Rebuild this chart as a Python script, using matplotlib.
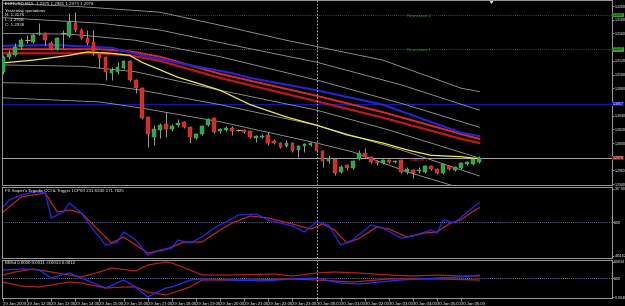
import numpy as np
import matplotlib.pyplot as plt
from matplotlib.transforms import blended_transform_factory

plt.rcParams['font.family'] = ['Liberation Sans', 'DejaVu Sans']

# EURUSD M15, 29 Jan 2009 11:00 -> 30 Jan 06:45 (80 bars)
opens = [1.3104, 1.3126, 1.3128, 1.3140, 1.3151, 1.3147, 1.3159, 1.3161, 1.3146, 1.3137,
         1.3160, 1.3156, 1.3175, 1.3165, 1.3153, 1.3147, 1.3131, 1.3126, 1.3102, 1.3104,
         1.3110, 1.3120, 1.3092, 1.3080, 1.3038, 1.3009, 1.3019, 1.3028, 1.3020, 1.3026,
         1.3031, 1.3023, 1.3007, 1.3013, 1.3026, 1.3037, 1.3018, 1.3019, 1.3022, 1.3019,
         1.3019, 1.3018, 1.3007, 1.3009, 1.3012, 1.3003, 1.3000, 1.2996, 1.3000, 1.2990,
         1.2996, 1.2997, 1.3000, 1.2988, 1.2974, 1.2977, 1.2958, 1.2968, 1.2964, 1.2977,
         1.2985, 1.2980, 1.2972, 1.2971, 1.2975, 1.2972, 1.2975, 1.2958, 1.2961, 1.2959,
         1.2958, 1.2966, 1.2962, 1.2956, 1.2966, 1.2961, 1.2964, 1.2969, 1.2969, 1.2972]
highs = [1.3128, 1.3136, 1.3146, 1.3153, 1.3158, 1.3161, 1.3175, 1.3162, 1.3149, 1.3155,
         1.3165, 1.3190, 1.3191, 1.3168, 1.3165, 1.3165, 1.3133, 1.3127, 1.3111, 1.3118,
         1.3121, 1.3121, 1.3093, 1.3082, 1.3039, 1.3026, 1.3029, 1.3045, 1.3028, 1.3035,
         1.3032, 1.3025, 1.3015, 1.3026, 1.3037, 1.3038, 1.3022, 1.3025, 1.3025, 1.3020,
         1.3020, 1.3019, 1.3012, 1.3013, 1.3016, 1.3006, 1.3001, 1.3004, 1.3001, 1.2997,
         1.3000, 1.3001, 1.3001, 1.2990, 1.2983, 1.2978, 1.2968, 1.2969, 1.2975, 1.2990,
         1.2993, 1.2981, 1.2975, 1.2977, 1.2977, 1.2975, 1.2977, 1.2965, 1.2962, 1.2965,
         1.2968, 1.2968, 1.2964, 1.2971, 1.2968, 1.2966, 1.2972, 1.2974, 1.2978, 1.2981]
lows = [1.3101, 1.3123, 1.3127, 1.3137, 1.3146, 1.3146, 1.3158, 1.3143, 1.3136, 1.3136,
        1.3139, 1.3155, 1.3162, 1.3152, 1.3143, 1.3128, 1.3110, 1.3092, 1.3092, 1.3101,
        1.3108, 1.3091, 1.3073, 1.3035, 1.2994, 1.2997, 1.3007, 1.3009, 1.3018, 1.3023,
        1.3022, 1.3000, 1.3006, 1.3012, 1.3025, 1.3015, 1.3015, 1.3018, 1.3012, 1.3018,
        1.3015, 1.3007, 1.3001, 1.3007, 1.2997, 1.2999, 1.2993, 1.2994, 1.2987, 1.2980,
        1.2987, 1.2996, 1.2987, 1.2965, 1.2971, 1.2953, 1.2956, 1.2961, 1.2962, 1.2975,
        1.2978, 1.2971, 1.2968, 1.2969, 1.2971, 1.2971, 1.2956, 1.2955, 1.2949, 1.2956,
        1.2956, 1.2961, 1.2955, 1.2955, 1.2961, 1.2959, 1.2962, 1.2968, 1.2968, 1.2971]
closes = [1.3126, 1.3130, 1.3140, 1.3150, 1.3151, 1.3158, 1.3161, 1.3150, 1.3137, 1.3153,
          1.3160, 1.3177, 1.3165, 1.3153, 1.3146, 1.3133, 1.3124, 1.3104, 1.3107, 1.3111,
          1.3120, 1.3092, 1.3080, 1.3037, 1.3013, 1.3020, 1.3026, 1.3020, 1.3025, 1.3029,
          1.3023, 1.3009, 1.3013, 1.3025, 1.3035, 1.3016, 1.3020, 1.3022, 1.3018, 1.3019,
          1.3016, 1.3009, 1.3010, 1.3010, 1.3000, 1.3000, 1.2994, 1.3000, 1.2988, 1.2996,
          1.2999, 1.3000, 1.2988, 1.2974, 1.2978, 1.2956, 1.2965, 1.2964, 1.2974, 1.2985,
          1.2980, 1.2972, 1.2971, 1.2975, 1.2972, 1.2974, 1.2958, 1.2962, 1.2956, 1.2961,
          1.2966, 1.2962, 1.2956, 1.2969, 1.2962, 1.2965, 1.2971, 1.2972, 1.2977, 1.2978]

# moving averages (bar index, price)
yellow_i = [0, 5, 11, 14, 18, 21, 23, 26, 29, 32, 36, 41, 47, 52, 57, 63, 67, 71, 76, 79]
yellow_p = [1.3117, 1.3121, 1.3128, 1.3133, 1.3131, 1.3128, 1.3118, 1.3107, 1.3096, 1.3088,
            1.3077, 1.3056, 1.3038, 1.3026, 1.3012, 1.3000, 1.2990, 1.2982, 1.2980, 1.2977]
blue_i = [0, 9, 18, 23, 29, 38, 41, 52, 63, 69, 76, 79]
blue_p = [1.3142, 1.3143, 1.3139, 1.3128, 1.3117, 1.3102, 1.3095, 1.3077, 1.3056, 1.3037, 1.3015, 1.3010]
red_i = [0, 16, 21, 26, 36, 52, 63, 76, 79]
red1_p = [1.3137, 1.3137, 1.3134, 1.3126, 1.3101, 1.3069, 1.3045, 1.3013, 1.3006]
red2_p = [1.3131, 1.3131, 1.3128, 1.3120, 1.3095, 1.3061, 1.3037, 1.3006, 1.3000]

# envelope lines
g1_i = [0, 13, 26, 36, 47, 63, 76, 79]
g1_p = [1.3204, 1.3199, 1.3191, 1.3172, 1.3150, 1.3121, 1.3080, 1.3075]
g2_i = [0, 16, 26, 38, 52, 66, 79]
g2_p = [1.3183, 1.3175, 1.3165, 1.3143, 1.3118, 1.3085, 1.3048]
g3_i = [0, 11, 22, 36, 52, 66, 79]
g3_p = [1.3160, 1.3159, 1.3150, 1.3126, 1.3092, 1.3058, 1.3023]
g4_i = [0, 13, 22, 36, 52, 64, 79]
g4_p = [1.3114, 1.3112, 1.3104, 1.3077, 1.3048, 1.3019, 1.2978]
g5_i = [0, 16, 23, 36, 52, 66, 79]
g5_p = [1.3088, 1.3086, 1.3077, 1.3056, 1.3026, 1.2990, 1.2952]
g6_i = [0, 16, 23, 36, 52, 58, 67, 76, 79]
g6_p = [1.3066, 1.3060, 1.3051, 1.3031, 1.3000, 1.2987, 1.2958, 1.2934, 1.2925]

# pivot levels
r2, r1, pivot, s1 = 1.3187, 1.3137, 1.3057, 1.2978

# Ergodic CCI & trigger
cci_i = [0, 1, 3, 5, 6, 7, 8, 10, 11, 13, 15, 17, 19, 20, 22, 24, 26, 28, 29, 31, 33, 35, 37, 39,
         42, 44, 48, 50, 52, 54, 56, 58, 61, 63, 66, 68, 71, 72, 73, 75, 76, 78, 79]
cci_v = [180, 264, 324, 360, 360, 348, 48, 120, 228, 108, -96, -276, -240, -120, -216, -396, -336,
         -312, -216, -252, -180, -72, 0, 84, 96, 24, -48, -120, 0, -36, -276, -216, -36, -72, -192,
         -168, -96, -132, 24, -12, 60, 180, 232]
trig_i = [0, 3, 7, 9, 11, 13, 18, 20, 24, 27, 30, 33, 36, 38, 41, 44, 48, 51, 53, 55, 57, 59, 62,
          64, 67, 70, 72, 74, 76, 78, 79]
trig_v = [120, 300, 348, 120, 144, 108, -252, -180, -372, -330, -240, -240, -96, -12, 72, 48, -24,
          -84, -24, -96, -250, -200, -60, -84, -180, -130, -120, -20, 30, 130, 172]

# BBSd panel
up_i = [0, 2, 5, 8, 11, 13, 16, 18, 22, 24, 27, 28, 31, 33, 38, 45, 48, 52, 55, 59, 64, 68, 72, 76, 79]
up_v = [0.00063, 0.00126, 0.00189, 0.00126, 0.00063, 0.00021, 0.00126, 0.0021, 0.00147, 0.00273,
        0.00336, 0.00315, 0.00168, 0.00063, 0.00063, 0.00084, 0.00042, 0.00105, 0.00126, 0.00105,
        0.00063, 0.00042, 0.00063, 0.00042, 0.00042]
mid_i = [0, 3, 6, 8, 11, 13, 17, 20, 22, 24, 27, 28, 31, 33, 43, 48, 52, 56, 59, 66, 72, 76, 79]
mid_v = [0.00168, 0.00189, 0.00168, 0.0, 0.00105, 0.0, -0.0021, -0.00042, -0.00189, -0.00399,
         -0.0021, -0.00189, -0.00042, -0.00021, -0.00063, -0.00021, 0.0, -0.00105, -0.00126,
         -0.00042, 0.0, 0.00021, 0.00063]
lo_i = [0, 3, 6, 8, 11, 13, 17, 20, 22, 24, 27, 28, 31, 33, 41, 48, 52, 58, 64, 72, 79]
lo_v = [-0.00084, -0.00168, -0.00189, -0.00147, -0.00084, -0.00105, -0.0021, -0.00189, -0.00189,
        -0.00294, -0.00357, -0.00315, -0.00189, -0.00042, -0.00042, -0.00021, -0.00042, -0.00084,
        -0.00021, -0.00021, -0.00042]

time_labels = ['29 Jan 2009', '29 Jan 12:00', '29 Jan 13:00', '29 Jan 14:00', '29 Jan 15:00',
               '29 Jan 16:00', '29 Jan 17:00', '29 Jan 18:00', '29 Jan 19:00', '29 Jan 20:00',
               '29 Jan 21:00', '29 Jan 22:00', '29 Jan 23:00', '30 Jan 00:00', '30 Jan 01:00',
               '30 Jan 02:00', '30 Jan 03:00', '30 Jan 04:00', '30 Jan 05:00', '30 Jan 06:00']

W, H = 625, 306
fig = plt.figure(figsize=(W / 100, H / 100), dpi=100, facecolor='black')
AX_FS = 2.5


def px_axes(l, t, r, b):
    ax = fig.add_axes([l / W, 1 - b / H, (r - l) / W, (b - t) / H])
    ax.set_facecolor('black')
    for s in ax.spines.values():
        s.set_color('#9a9a9a')
        s.set_linewidth(0.7)
    ax.set_xlim(-0.17, 101.0)
    ax.yaxis.tick_right()
    ax.tick_params(axis='y', colors='#c8c8c8', labelcolor='white', labelsize=AX_FS,
                   length=1.2, width=0.5, pad=0.5)
    ax.tick_params(axis='x', bottom=False, labelbottom=False)
    return ax


def ftext(x, y, s, **kw):
    fig.text(x / W, 1 - y / H, s, color=kw.pop('color', 'white'), fontsize=kw.pop('fontsize', 3.2),
             va=kw.pop('va', 'center'), ha=kw.pop('ha', 'left'), **kw)


main = px_axes(2, 0, 612, 185)
cci = px_axes(2, 187, 612, 258)
bbs = px_axes(2, 260, 612, 298)

# ---- main price window
price_ticks = np.arange(1.2940, 1.32001, 0.0020)
levels = [r1, pivot, s1]
# tick labels sitting under a level box are hidden, as in the terminal
tick_text = ['' if min(abs(v - l) for l in levels) < 0.0004 else '%.4f' % v for v in price_ticks]
main.set_ylim(1.29387, 1.32088)
main.set_yticks(price_ticks)
main.set_yticklabels(tick_text)

for lvl in (r2, r1):
    main.axhline(lvl, color='#2e7d2e', lw=0.6, ls=(0, (1, 1.5)))
main.axhline(pivot, color='#1515a8', lw=0.9)
main.axhline(s1, color='#a8a8a8', lw=0.7)

gray = '#9c9c9c'
for gi, gp in [(g1_i, g1_p), (g2_i, g2_p), (g3_i, g3_p), (g4_i, g4_p), (g5_i, g5_p), (g6_i, g6_p)]:
    main.plot(gi, gp, color=gray, lw=0.6)
main.plot(red_i, red2_p, color='#c01818', lw=1.6)
main.plot(red_i, red1_p, color='#e02828', lw=1.4)
main.plot(blue_i, blue_p, color='#2424d8', lw=1.5)
main.plot(yellow_i, yellow_p, color='#f0f040', lw=0.9)

idx = np.arange(len(opens))
o = np.array(opens)
c = np.array(closes)
main.vlines(idx, lows, highs, color='#b4b4b4', lw=0.6, zorder=3)
up = c > o
dn = c < o
dj = c == o
main.bar(idx[up], (c - o)[up], bottom=o[up], width=0.62, color='#2fa44a', edgecolor='#4cc063',
         lw=0.3, zorder=4)
main.bar(idx[dn], (o - c)[dn], bottom=c[dn], width=0.62, color='#d02c2c', edgecolor='#e04a4a',
         lw=0.3, zorder=4)
main.hlines(c[dj], idx[dj] - 0.4, idx[dj] + 0.4, color='#e0a060', lw=0.8, zorder=4)

main.axvline(52, color='#d0d0d0', lw=0.6, ls=(0, (2, 2)))

main.text(67, r2 - 0.00018, 'Resistance 2', color='#2e9a2e', fontsize=3.0, va='center')
main.text(67, r1 - 0.00018, 'Resistance 1', color='#2e9a2e', fontsize=3.0, va='center')
main.text(67, pivot - 0.00018, 'Pivot', color='#3030e0', fontsize=3.0, va='center')
main.text(67.5, s1 - 0.00025, 'Support 1', color='#d03030', fontsize=3.0, va='center')

tr = blended_transform_factory(main.transAxes, main.transData)
for lvl, fc, tc in [(r2, '#2ea02e', 'black'), (r1, '#2ea02e', 'black'),
                    (pivot, '#1414c8', 'white'), (s1, '#8c1414', 'white')]:
    main.text(1.0015, lvl, '%.4f' % lvl, transform=tr, fontsize=AX_FS, color=tc, va='center',
              ha='left', bbox=dict(boxstyle='square,pad=0.12', fc=fc, ec='none'), clip_on=False,
              zorder=6)

main.plot([81.0], [1.32075], marker='v', color='#d0d0d0', ms=2.5, clip_on=False)

ftext(5, 4, 'EURUSD,M15  1.2975 1.2981 1.2973 1.2978')
ftext(5, 11, 'Yesterday quotations')
ftext(5, 15.5, 'H: 1.3176')
ftext(5, 20, 'L: 1.2918')
ftext(5, 24.5, 'C: 1.2938')

# ---- Ergodic CCI window
cci.set_ylim(-432, 420)
cci.set_yticks([397, 0, -404.62])
cci.set_yticklabels(['397.00', '0.00', '-404.62'])
cci.axhline(0, color='#8c8cc8', lw=0.6, ls=(0, (1, 1.5)))
cci.plot(trig_i, trig_v, color='#c02424', lw=0.9)
cci.plot(cci_i, cci_v, color='#2a2aff', lw=1.0, alpha=0.85)
cci.axvline(52, color='#d0d0d0', lw=0.6, ls=(0, (2, 2)))
ftext(5, 191, "FX Sniper's Ergodic CCI & Trigger 1CP60 231.6930 171.7825")

# ---- BBSd window
bbs.set_ylim(-0.0042, 0.00378)
bbs.set_yticks([0.0034, 0.0, -0.0040])
bbs.set_yticklabels(['0.0034', '0.00', '-0.0040'])
bbs.axhline(0, color='#a0a0e0', lw=0.6, ls=(0, (1, 1.5)))
bbs.plot(up_i, up_v, color='#b02020', lw=0.9)
bbs.plot(lo_i, lo_v, color='#b02020', lw=0.9)
bbs.plot(mid_i, mid_v, color='#2a2aff', lw=0.9)
bbs.axvline(52, color='#d0d0d0', lw=0.6, ls=(0, (2, 2)))
ftext(5, 263, 'BBSd 0.0000 0.0011 -0.0013 0.0012')

bbs.set_xticks(np.arange(0, 80, 4))
bbs.set_xticklabels(time_labels, ha='left')
bbs.tick_params(axis='x', bottom=True, labelbottom=True, colors='#c8c8c8', labelcolor='white',
                labelsize=3.1, length=2, width=0.5, pad=0.6)

fig.savefig('out.png', dpi=100, facecolor='black')
